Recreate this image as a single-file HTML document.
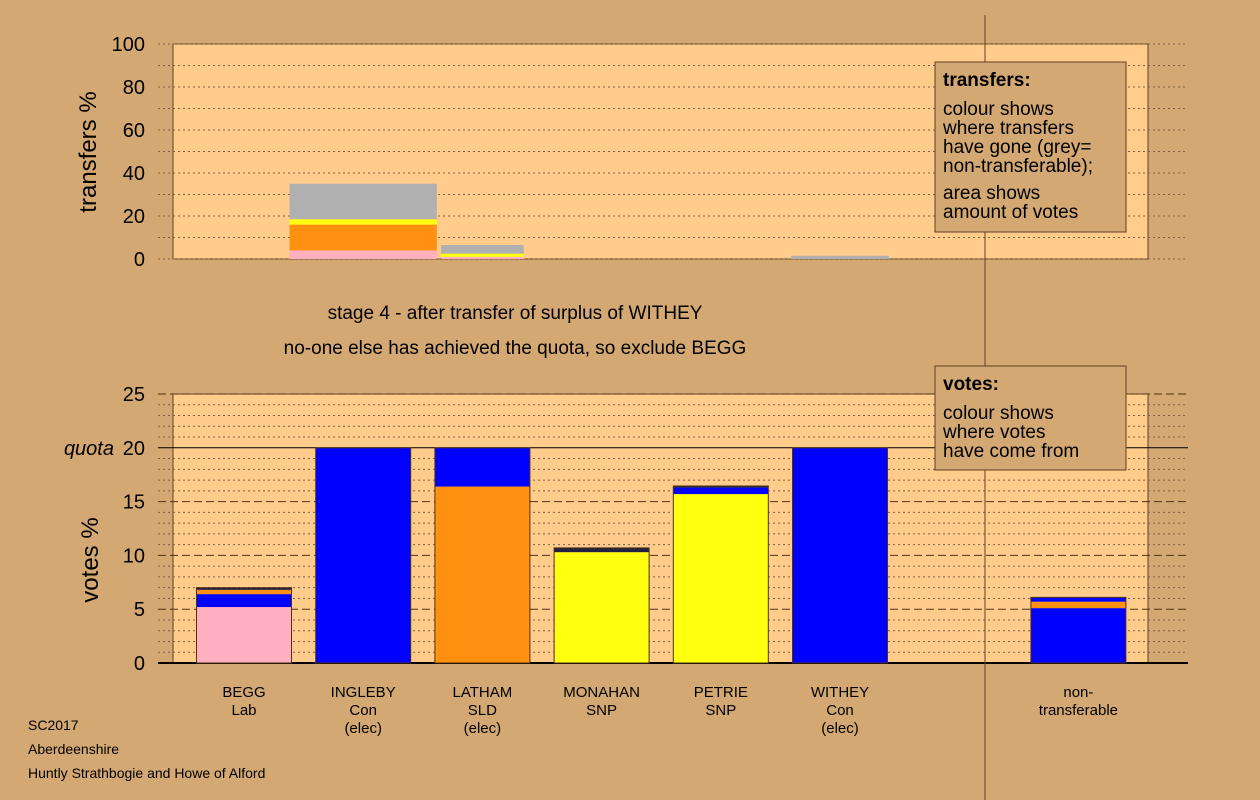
<!DOCTYPE html>
<html><head><meta charset="utf-8"><style>
html,body{margin:0;padding:0;background:#d3a873;}
svg{display:block;font-family:"Liberation Sans",sans-serif;}
</style></head><body>
<svg id="c" width="1260" height="800" viewBox="0 0 1260 800"></svg>
<script>
const candidates=["BEGG","INGLEBY","LATHAM","MONAHAN","PETRIE","WITHEY","non-"];
const line2=["Lab","Con","SLD","SNP","SNP","Con","transferable"];
const line3=["","(elec)","(elec)","","","(elec)",""];
const slotIndex=[0,1,2,3,4,5,7];
// stacked votes per candidate, bottom to top in this order
const votesPink=[5.2,0,0,0,0,0,0];
const votesYellow=[0,0,0,10.3,15.7,0,0];
const votesBlueLow=[1.2,20,0,0,0,20,5.1];
const votesOrange=[0.4,0,16.4,0,0,0,0.6];
const votesBlueHigh=[0,0,3.6,0,0.6,0,0.4];
const votesDark=[0.2,0,0,0.4,0.15,0,0];
const voteTicks=[0,5,10,15,20,25];
const transferTicks=[0,20,40,60,80,100];
// transfers: target slot, relative width, [pink, orange, yellow, grey]
const trSlot=[1,2,5];
const trWidth=[1.55,0.87,1.03];
const trPink=[4,1,0];
const trOrange=[12,0,0];
const trYellow=[2.5,1.5,0];
const trGrey=[16.5,4,1.5];

const NS="http://www.w3.org/2000/svg";
const svg=document.getElementById('c');
function el(t,a,p){const e=document.createElementNS(NS,t);for(const k in a)e.setAttribute(k,a[k]);(p||svg).appendChild(e);return e;}
const vY=v=>663-v*(269/25);
const tY=v=>259-v*2.15;
const slotX=i=>244+i*119.2;
const barW=95;

let p=el('rect',{x:173,y:44,width:975,height:215,fill:'#ffcc8c',stroke:'#604020','stroke-width':1});

p=el('rect',{x:173,y:394,width:975,height:269,fill:'#ffcc8c',stroke:'#604020','stroke-width':1});


for(let v=0;v<=100;v+=10){const l=el('line',{x1:158,x2:1188,y1:tY(v),y2:tY(v),stroke:'#806040','stroke-width':1,'stroke-dasharray':'2,3'});
}
transferTicks.forEach(v=>{const t=el('text',{x:145,y:tY(v)+7,'text-anchor':'end','font-size':20,fill:'#000'});t.textContent=v;
});
let t=el('text',{x:0,y:0,'font-size':24,'text-anchor':'middle',transform:'translate(96,152) rotate(-90)'});t.textContent='transfers %';


for(let v=0;v<=25;v++){
  let dash=v%5===0?'8,4':'2,3',col=v%5===0?'#503018':'#806040';
  if(v===20||v===0){dash='none';col='#000';}
  const l=el('line',{x1:158,x2:1188,y1:vY(v),y2:vY(v),stroke:col,'stroke-width':v===0?2:1,'stroke-dasharray':dash});
  
}
voteTicks.forEach(v=>{const t=el('text',{x:145,y:vY(v)+7,'text-anchor':'end','font-size':20});t.textContent=v;
});
t=el('text',{x:114,y:vY(20)+7,'text-anchor':'end','font-size':20,'font-style':'italic'});t.textContent='quota';

t=el('text',{x:0,y:0,'font-size':24,'text-anchor':'middle',transform:'translate(98,560) rotate(-90)'});t.textContent='votes %';


let vl=el('line',{x1:985,x2:985,y1:15,y2:800,stroke:'#604020','stroke-width':1});


const trSeries=[[trPink,'#ffb0c0'],[trOrange,'#ff9010'],[trYellow,'#ffff10'],[trGrey,'#b0b0b0']];
trSlot.forEach((s,i)=>{let base=0;const w=barW*trWidth[i];const x=slotX(s)-w/2;
  trSeries.forEach(([arr,col])=>{const v=arr[i];if(v<=0)return;
    const r=el('rect',{x:x,y:tY(base+v),width:w,height:tY(base)-tY(base+v),fill:col});
    base+=v;});
});

const vSeries=[[votesPink,'#ffb0c0'],[votesYellow,'#ffff10'],[votesBlueLow,'#0000ff'],[votesOrange,'#ff9010'],[votesBlueHigh,'#0000ff'],[votesDark,'#202040']];
candidates.forEach((c,i)=>{const x=slotX(slotIndex[i])-barW/2;let base=0;
  const g=el('g',{});
  vSeries.forEach(([arr,col])=>{const v=arr[i];if(v<=0)return;
    const r=el('rect',{x:x,y:vY(base+v),width:barW,height:vY(base)-vY(base+v),fill:col},g);
    base+=v;});
  const o=el('rect',{x:x,y:vY(base),width:barW,height:vY(0)-vY(base),fill:'none',stroke:'#503018','stroke-width':1},g);
  
  [c,line2[i],line3[i]].forEach((s,k)=>{if(!s)return;const tt=el('text',{x:slotX(slotIndex[i]),y:697+k*18,'text-anchor':'middle','font-size':15});tt.textContent=s;
    });
});

t=el('text',{x:515,y:319,'text-anchor':'middle','font-size':19});t.textContent='stage 4 - after transfer of surplus of WITHEY';

t=el('text',{x:515,y:354,'text-anchor':'middle','font-size':19});t.textContent='no-one else has achieved the quota, so exclude BEGG';


function legend(name,y,h,title,lines){const g=el('g',{});
  el('rect',{x:935,y:y,width:191,height:h,fill:'#d3a873',stroke:'#604020','stroke-width':1},g);
  const tt=el('text',{x:943,y:y+24,'font-size':19,'font-weight':'bold'},g);tt.textContent=title;
  lines.forEach(([s,dy])=>{const l=el('text',{x:943,y:y+dy,'font-size':19},g);l.textContent=s;});}
legend('transfers-legend',62,170,'transfers:',[['colour shows',53],['where transfers',72],['have gone (grey=',91],['non-transferable);',110],['area shows',137],['amount of votes',156]]);
legend('votes-legend',366,104,'votes:',[['colour shows',53],['where votes',72],['have come from',91]]);

const footerLines=['SC2017','Aberdeenshire','Huntly Strathbogie and Howe of Alford'];
footerLines.forEach((s,i)=>{
  const f=el('text',{x:28,y:730+i*24,'font-size':14});f.textContent=s;
  });
</script>
</body></html>
